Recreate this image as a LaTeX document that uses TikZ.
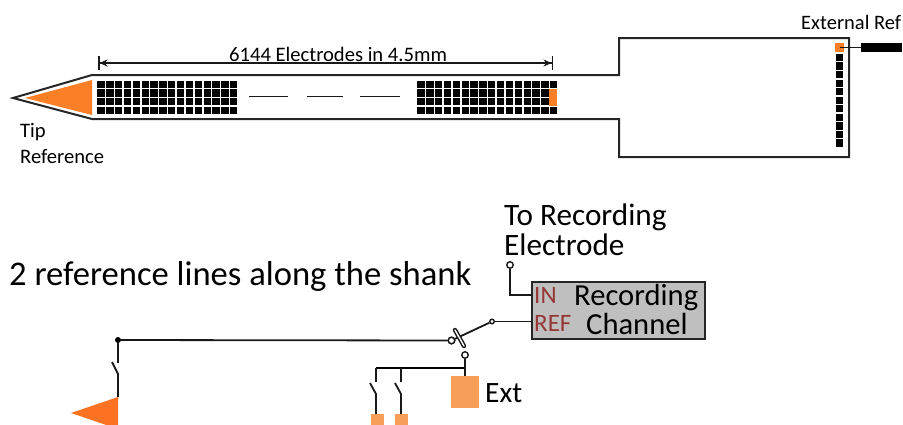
\documentclass[tikz,border=0pt]{standalone}
\usepackage{fontspec}
\setmainfont{Carlito}
\usepackage{xcolor}
\usepackage{tikz}
\usetikzlibrary{positioning, calc, arrows.meta}
\definecolor{tiporange}{HTML}{FB7F26}
\definecolor{padorange}{HTML}{F79F58}
\definecolor{chgray}{HTML}{BFBFBF}
\definecolor{portred}{HTML}{953735}
\tikzset{
    cell/.style={draw=none, fill=black, inner sep=0pt, minimum size=7.3pt},
    pad/.style={draw=none, fill=padorange, inner sep=0pt, minimum width=13pt, minimum height=13pt},
    label/.style={inner sep=0pt, anchor=west, text=black},
    port/.style={inner sep=0pt, anchor=west, text=portred, font=\fontsize{25}{25}\selectfont},
    wire/.style={line width=1.8pt, black!90},
    outline/.style={line width=2pt, black!85},
    open/.style={circle, draw=black!90, fill=white, line width=1.4pt, inner sep=0pt, minimum size=6.5pt},
}

\begin{document}
\begin{tikzpicture}[x=1pt, y=-1pt, >=Stealth]

    \clip (0,0) rectangle (903,424);

    % --- Shank and base ---
    \draw[outline] (92,75) -- (13,98) -- (92,119) -- (619,119) -- (619,157) -- (849,157) -- (849,38) -- (619,38) -- (619,75) -- cycle;
    \fill[tiporange] (25,98) -- (92,80) -- (92,115) -- cycle;

    % --- Electrode blocks ---
    \foreach \col in {0,...,15} {
        \foreach \row in {0,...,3} {
            \node[cell] (la\col-\row) at ({101+8.85*\col}, {84.5+8.6*\row}) {};
            \node[cell] (ra\col-\row) at ({421+8.85*\col}, {84.5+8.6*\row}) {};
        }
    }
    \fill[tiporange] (549,89) rectangle (557,106);

    % Dashes between the blocks
    \draw[wire] (249,96.5) -- (288,96.5);
    \draw[wire] (307,96.5) -- (343,96.5);
    \draw[wire] (360,96.5) -- (400,96.5);

    % --- Length dimension ---
    \coordinate (dimL) at (98,63);
    \coordinate (dimR) at (553,63);
    \draw[wire, line width=1.5pt, {Bar[width=14pt]Stealth[length=8pt,width=7pt]}-{Stealth[length=8pt,width=7pt]Bar[width=14pt]}] (dimL) -- (dimR);
    \node[label, font=\fontsize{20.6}{20.6}\selectfont] (dimtext) at (229,54) {6144 Electrodes in 4.5mm};

    % --- Base electrodes ---
    \foreach \row in {0,...,10} {
        \node[cell] (base\row) at (839.5, {57.5+8.55*\row}) {};
    }
    \node[cell, fill=tiporange, minimum size=8.5pt] (extpad) at (839.5,47.5) {};
    \node[draw=none, fill=black, inner sep=0pt, minimum width=41pt, minimum height=9pt] (extbar) at (881.5,47.5) {};
    \draw[wire] (extpad.center) -- (extbar.west);
    \node[label, font=\fontsize{20.5}{20.5}\selectfont] (exttext) at (801,22) {External Ref};

    % --- Tip label ---
    \node[label, font=\fontsize{20.6}{20.6}\selectfont] (tiptext) at (20,132) {Tip};
    \node[label, font=\fontsize{20.6}{20.6}\selectfont] (reftext) at (20,157) {Reference};

    % --- Recording channel ---
    \node[draw=black!85, fill=chgray, line width=1.6pt, minimum width=173pt, minimum height=57pt, inner sep=0pt] (channel) at (618.5,310.5) {};
    \node[label, font=\fontsize{30.6}{30.6}\selectfont] (chan1) at (574,297) {Recording};
    \node[label, font=\fontsize{30.6}{30.6}\selectfont] (chan2) at (586,323.5) {Channel};
    \node[port] (inport) at (534,295) {IN};
    \node[port] (refport) at (534,323) {REF};

    \node[label, font=\fontsize{31.2}{31.2}\selectfont] (torec) at (504,217) {To Recording};
    \node[label, font=\fontsize{31.2}{31.2}\selectfont] (toelec) at (504,245) {Electrode};
    \node[label, font=\fontsize{34.6}{34.6}\selectfont] (title) at (9,276) {2 reference lines along the shank};

    % --- Reference selector ---
    \node[open] (inpin) at (510,265) {};
    \coordinate (injoin) at (510,295);
    \coordinate (inend) at (532,295);
    \draw[wire] (inpin) -- (injoin) -- (inend);

    \node[open, minimum size=4.5pt] (refpin) at (492,321.5) {};
    \coordinate (refend) at (532,321.5);
    \draw[wire] (refpin) -- (refend);

    \node[open] (leftpin) at (451.5,340.5) {};
    \node[open] (extpin) at (465,355) {};
    \coordinate (leverA) at (455,330);
    \coordinate (leverB) at (464,346);
    \draw[wire] (refpin) -- (leftpin);
    \draw[black!90, line width=4.4pt, line cap=round] (leverA) -- (leverB);
    \draw[white, line width=1.4pt, line cap=round] (leverA) -- (leverB);
    \node[open] at (451.5,340.5) {};

    % Main reference line, tip side
    \node[circle, fill=black, inner sep=0pt, minimum size=6pt] (tipdot) at (118,340) {};
    \draw[wire] (tipdot) -- (leftpin);
    \coordinate (tipsw1) at (118,363);
    \coordinate (tipsw2) at (118,374);
    \coordinate (tiparm) at (112,362);
    \coordinate (tipend) at (118,397);
    \draw[wire] (tipdot) -- (tipsw1);
    \draw[wire] (tiparm) -- (tipsw2) -- (tipend);
    \fill[tiporange!90!red] (71,413) -- (118,397) -- (118,429) -- cycle;

    % External pad side
    \node[pad, minimum width=28pt, minimum height=32pt] (extsq) at (465,392) {};
    \node[label, font=\fontsize{29.5}{29.5}\selectfont] (exttag) at (485,393) {Ext};
    \coordinate (busR) at (466,368);
    \coordinate (busL) at (376,368);
    \draw[black, line width=2.4pt] (busL) -- (busR);
    \draw[wire] (extpin) -- (extsq.north);

    \node[pad] (padA) at (377.5,420.5) {};
    \node[pad] (padB) at (401.5,420.5) {};
    \foreach \x/\p in {376/padA, 401/padB} {
        \draw[wire] (\x,368) -- (\x,382);
        \draw[wire] ({\x-6},383) -- (\x,394) -- (\p.north -| \x,0);
    }

\end{tikzpicture}
\end{document}
